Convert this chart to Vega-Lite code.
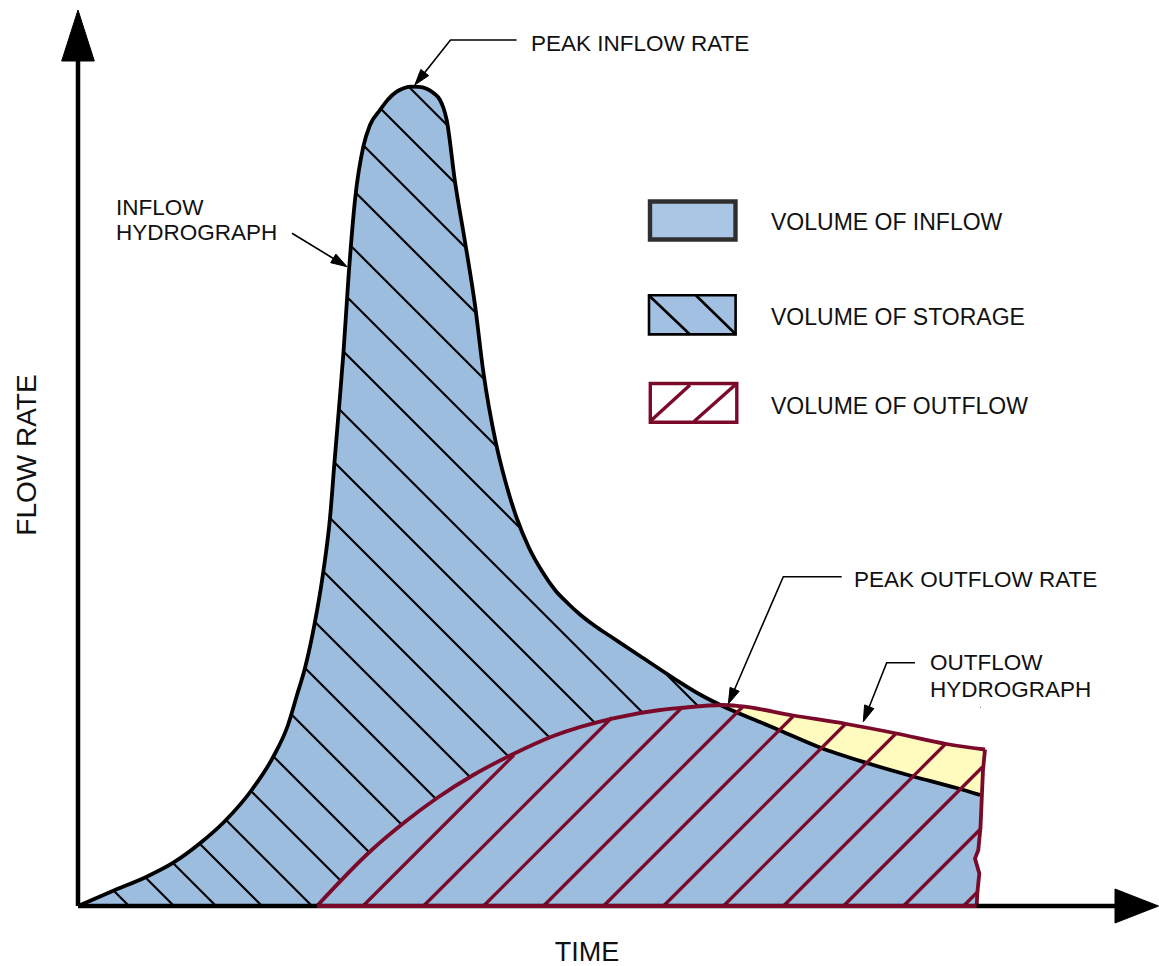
{
  "$schema": "https://vega.github.io/schema/vega-lite/v6.json",
  "width": 1159,
  "height": 966,
  "padding": 0,
  "autosize": {"type": "none"},
  "background": "white",
  "config": {"view": {"stroke": null}},
  "datasets": {
    "inflow": [
      {"x": 0, "y": 0}, {"x": 37, "y": 16}, {"x": 68.7, "y": 29.3}, {"x": 95.3, "y": 43.3},
      {"x": 122, "y": 62.7}, {"x": 147, "y": 85}, {"x": 173.7, "y": 116}, {"x": 195.3, "y": 149.3},
      {"x": 210, "y": 181}, {"x": 219, "y": 211}, {"x": 227, "y": 238}, {"x": 237, "y": 284.3},
      {"x": 245.3, "y": 334.3}, {"x": 252, "y": 388}, {"x": 256.5, "y": 444}, {"x": 261, "y": 498},
      {"x": 265.5, "y": 554}, {"x": 270.3, "y": 626}, {"x": 277, "y": 706}, {"x": 285.3, "y": 759.3},
      {"x": 292, "y": 781}, {"x": 302, "y": 796}, {"x": 310, "y": 806.5}, {"x": 318.7, "y": 814.3},
      {"x": 325, "y": 817.5}, {"x": 332, "y": 819.3}, {"x": 341, "y": 819.2}, {"x": 348.7, "y": 817.3},
      {"x": 355.5, "y": 813}, {"x": 362, "y": 806}, {"x": 365.5, "y": 798}, {"x": 368.7, "y": 786},
      {"x": 377, "y": 724.3}, {"x": 387, "y": 664.3}, {"x": 397, "y": 601}, {"x": 405.3, "y": 534.3},
      {"x": 418, "y": 462.7}, {"x": 427, "y": 426}, {"x": 438.7, "y": 388}, {"x": 450.5, "y": 359.3},
      {"x": 465.3, "y": 332.7}, {"x": 477, "y": 316}, {"x": 490, "y": 302.5}, {"x": 502, "y": 291.5},
      {"x": 517, "y": 280}, {"x": 532, "y": 270}, {"x": 562, "y": 250}, {"x": 595.3, "y": 228},
      {"x": 622, "y": 211.5}, {"x": 648.7, "y": 198}, {"x": 682, "y": 184}, {"x": 702, "y": 175.5},
      {"x": 742, "y": 158.5}, {"x": 788.7, "y": 143}, {"x": 835.3, "y": 129.5}, {"x": 878.7, "y": 118},
      {"x": 902, "y": 111}
    ],
    "outflow": [
      {"x": 239, "y": 0}, {"x": 293.7, "y": 56}, {"x": 325.3, "y": 82.7}, {"x": 358.7, "y": 107.7},
      {"x": 395.3, "y": 131}, {"x": 435.3, "y": 152}, {"x": 475.3, "y": 170}, {"x": 535.3, "y": 187.7},
      {"x": 582, "y": 196}, {"x": 602, "y": 198}, {"x": 645.3, "y": 201}, {"x": 662, "y": 199.8},
      {"x": 715.3, "y": 190.5}, {"x": 768.7, "y": 182}, {"x": 818.7, "y": 172.5}, {"x": 868.7, "y": 162},
      {"x": 907, "y": 156.5}
    ],
    "yellow": [
      {"x": 643, "y": 200.9, "yb": 200.9}, {"x": 648.7, "y": 201, "yb": 198}, {"x": 662, "y": 199.8, "yb": 192.4},
      {"x": 682, "y": 196.3, "yb": 184}, {"x": 702, "y": 192.8, "yb": 175.5}, {"x": 715.3, "y": 190.5, "yb": 169.9},
      {"x": 742, "y": 186.3, "yb": 158.5}, {"x": 768.7, "y": 182, "yb": 149.7}, {"x": 788.7, "y": 178.2, "yb": 143},
      {"x": 818.7, "y": 172.5, "yb": 134.3}, {"x": 835.3, "y": 169, "yb": 129.5}, {"x": 868.7, "y": 162, "yb": 120.6},
      {"x": 878.7, "y": 160.6, "yb": 118}, {"x": 902, "y": 157.2, "yb": 111}, {"x": 907, "y": 156.5, "yb": 109}
    ],
    "wave": [
      {"x": 898.7, "y": 0}, {"x": 899.3, "y": 12.5}, {"x": 901.3, "y": 32.5}, {"x": 897, "y": 47.5},
      {"x": 900.3, "y": 56}, {"x": 902.5, "y": 79}, {"x": 905, "y": 136}, {"x": 907, "y": 156.5}
    ],
    "waveCover": [
      {"i": 0, "x": 907, "y": 156.5}, {"i": 1, "x": 905, "y": 136}, {"i": 2, "x": 902.5, "y": 79},
      {"i": 3, "x": 900.3, "y": 56}, {"i": 4, "x": 897, "y": 47.5}, {"i": 5, "x": 901.3, "y": 32.5},
      {"i": 6, "x": 899.3, "y": 12.5}, {"i": 7, "x": 898.7, "y": 0}, {"i": 8, "x": 898.7, "y": -3},
      {"i": 9, "x": 960, "y": -3}, {"i": 10, "x": 960, "y": 180}, {"i": 11, "x": 907, "y": 180},
      {"i": 12, "x": 907, "y": 156.5}
    ],
    "blackHatch": [
      {"x": 0, "y": 51, "x2": 51, "y2": 0}, {"x": 0, "y": 96, "x2": 96, "y2": 0},
      {"x": 0, "y": 138, "x2": 138, "y2": 0}, {"x": 0, "y": 184, "x2": 184, "y2": 0},
      {"x": 0, "y": 234, "x2": 234, "y2": 0}, {"x": 0, "y": 288, "x2": 288, "y2": 0},
      {"x": 0, "y": 345, "x2": 345, "y2": 0}, {"x": 0, "y": 405, "x2": 405, "y2": 0},
      {"x": 0, "y": 465, "x2": 465, "y2": 0}, {"x": 0, "y": 521, "x2": 521, "y2": 0},
      {"x": 0, "y": 580, "x2": 580, "y2": 0}, {"x": 0, "y": 640, "x2": 640, "y2": 0},
      {"x": 0, "y": 700, "x2": 700, "y2": 0}, {"x": 0, "y": 758, "x2": 758, "y2": 0},
      {"x": 0, "y": 820, "x2": 820, "y2": 0}, {"x": 48, "y": 830, "x2": 878, "y2": 0},
      {"x": 103, "y": 830, "x2": 902, "y2": 31}, {"x": 161, "y": 830, "x2": 902, "y2": 89},
      {"x": 216, "y": 830, "x2": 902, "y2": 144}, {"x": 270, "y": 830, "x2": 902, "y2": 198},
      {"x": 320, "y": 830, "x2": 902, "y2": 248}
    ],
    "redHatch": [
      {"x": 285, "y": 0, "x2": 436, "y2": 151}, {"x": 345.5, "y": 0, "x2": 534, "y2": 188.5},
      {"x": 405.5, "y": 0, "x2": 603, "y2": 197.5}, {"x": 465.5, "y": 0, "x2": 665, "y2": 199.5},
      {"x": 525.5, "y": 0, "x2": 715, "y2": 189.5}, {"x": 585.5, "y": 0, "x2": 768, "y2": 182.5},
      {"x": 645.5, "y": 0, "x2": 818, "y2": 172.5}, {"x": 705.5, "y": 0, "x2": 868, "y2": 162.5},
      {"x": 765.5, "y": 0, "x2": 904.5, "y2": 139}, {"x": 825.5, "y": 0, "x2": 902, "y2": 76.5},
      {"x": 885.5, "y": 0, "x2": 899.5, "y2": 14}
    ],
    "arrowheads": [
      {"id": "ya", "i": 0, "x": 0, "y": 896}, {"id": "ya", "i": 1, "x": 16.3, "y": 845}, {"id": "ya", "i": 2, "x": -16.3, "y": 845}, {"id": "ya", "i": 3, "x": 0, "y": 896},
      {"id": "xa", "i": 0, "x": 1080.5, "y": 0}, {"id": "xa", "i": 1, "x": 1037, "y": 17}, {"id": "xa", "i": 2, "x": 1037, "y": -17}, {"id": "xa", "i": 3, "x": 1080.5, "y": 0},
      {"id": "a1", "i": 0, "x": 336.8, "y": 821}, {"id": "a1", "i": 1, "x": 350.7, "y": 830.4}, {"id": "a1", "i": 2, "x": 342.8, "y": 836.6}, {"id": "a1", "i": 3, "x": 336.8, "y": 821},
      {"id": "a2", "i": 0, "x": 269, "y": 639.3}, {"id": "a2", "i": 1, "x": 252.7, "y": 643.3}, {"id": "a2", "i": 2, "x": 257.9, "y": 651.9}, {"id": "a2", "i": 3, "x": 269, "y": 639.3},
      {"id": "a3", "i": 0, "x": 650.3, "y": 202}, {"id": "a3", "i": 1, "x": 661.2, "y": 214.7}, {"id": "a3", "i": 2, "x": 652.1, "y": 218.7}, {"id": "a3", "i": 3, "x": 650.3, "y": 202},
      {"id": "a4", "i": 0, "x": 785.3, "y": 184.3}, {"id": "a4", "i": 1, "x": 795.9, "y": 197.4}, {"id": "a4", "i": 2, "x": 786.6, "y": 201.1}, {"id": "a4", "i": 3, "x": 785.3, "y": 184.3}
    ],
    "leaders": [
      {"id": "l1", "i": 0, "x": 438.6, "y": 866}, {"id": "l1", "i": 1, "x": 372.5, "y": 866}, {"id": "l1", "i": 2, "x": 340, "y": 825},
      {"id": "l2", "i": 0, "x": 214, "y": 672.7}, {"id": "l2", "i": 1, "x": 265, "y": 641.7},
      {"id": "l3", "i": 0, "x": 763.7, "y": 329.3}, {"id": "l3", "i": 1, "x": 705.3, "y": 329.3}, {"id": "l3", "i": 2, "x": 652, "y": 206},
      {"id": "l4", "i": 0, "x": 837, "y": 243.3}, {"id": "l4", "i": 1, "x": 808.7, "y": 243.3}, {"id": "l4", "i": 2, "x": 787, "y": 188.5}
    ],
    "axes": [
      {"x": 0, "y": 0, "x2": 0, "y2": 848},
      {"x": 0, "y": 0, "x2": 1040, "y2": 0}
    ],
    "labels": [
      {"grp": "a", "x": 453, "y": 855, "label": "PEAK INFLOW RATE"},
      {"grp": "a", "x": 38, "y": 691, "label": "INFLOW"},
      {"grp": "a", "x": 38, "y": 666, "label": "HYDROGRAPH"},
      {"grp": "a", "x": 776, "y": 319.3, "label": "PEAK OUTFLOW RATE"},
      {"grp": "a", "x": 852, "y": 236, "label": "OUTFLOW"},
      {"grp": "a", "x": 852, "y": 209.3, "label": "HYDROGRAPH"},
      {"grp": "l", "x": 693, "y": 676.5, "label": "VOLUME OF INFLOW"},
      {"grp": "l", "x": 693, "y": 581, "label": "VOLUME OF STORAGE"},
      {"grp": "l", "x": 693, "y": 492.5, "label": "VOLUME OF OUTFLOW"},
      {"grp": "t", "x": 509, "y": -54.5, "label": "TIME"},
      {"grp": "f", "x": -42, "y": 451, "label": "FLOW RATE"}
    ]
  },
  "encoding": {
    "x": {"field": "x", "type": "quantitative", "scale": {"domain": [-78, 1081], "nice": false, "zero": false}, "axis": null},
    "y": {"field": "y", "type": "quantitative", "scale": {"domain": [-60, 906], "nice": false, "zero": false}, "axis": null}
  },
  "layer": [
    {"data": {"name": "inflow"}, "mark": {"type": "area", "interpolate": "monotone", "fill": "#9dbddf"}, "encoding": {"y2": {"datum": 0}}},
    {"data": {"name": "blackHatch"}, "mark": {"type": "rule", "stroke": "#000000", "strokeWidth": 2.1}, "encoding": {"x2": {"field": "x2"}, "y2": {"field": "y2"}}},
    {"data": {"name": "inflow"}, "mark": {"type": "area", "interpolate": "monotone", "fill": "#ffffff"}, "encoding": {"y2": {"datum": 906}}},
    {"data": {"name": "outflow"}, "mark": {"type": "area", "interpolate": "monotone", "fill": "#9dbddf"}, "encoding": {"y2": {"datum": 0}}},
    {"data": {"name": "yellow"}, "mark": {"type": "area", "interpolate": "monotone", "fill": "#fffbbf"}, "encoding": {"y2": {"field": "yb"}}},
    {"data": {"name": "waveCover"}, "mark": {"type": "line", "fill": "#ffffff", "stroke": "#ffffff", "strokeWidth": 0, "strokeOpacity": 0}, "encoding": {"order": {"field": "i"}}},
    {"data": {"name": "inflow"}, "mark": {"type": "line", "interpolate": "monotone", "stroke": "#000000", "strokeWidth": 3.8}},
    {"data": {"name": "redHatch"}, "mark": {"type": "rule", "stroke": "#7b0a2a", "strokeWidth": 3.3}, "encoding": {"x2": {"field": "x2"}, "y2": {"field": "y2"}}},
    {"data": {"name": "outflow"}, "mark": {"type": "line", "interpolate": "monotone", "stroke": "#7b0a2a", "strokeWidth": 3.8}},
    {"data": {"name": "wave"}, "mark": {"type": "line", "stroke": "#7b0a2a", "strokeWidth": 3.8}, "encoding": {"order": {"field": "y"}}},
    {"data": {"name": "axes"}, "mark": {"type": "rule", "stroke": "#000000", "strokeWidth": 4.5}, "encoding": {"x2": {"field": "x2"}, "y2": {"field": "y2"}}},
    {"data": {"values": [{"x": 239, "y": 0, "x2": 898.7, "y2": 0}]}, "mark": {"type": "rule", "stroke": "#7b0a2a", "strokeWidth": 3.8}, "encoding": {"x2": {"field": "x2"}, "y2": {"field": "y2"}}},
    {"data": {"name": "leaders"}, "mark": {"type": "line", "stroke": "#000000", "strokeWidth": 1.6}, "encoding": {"detail": {"field": "id"}, "order": {"field": "i"}}},
    {"data": {"name": "arrowheads"}, "mark": {"type": "line", "fill": "#000000", "stroke": "#000000", "strokeWidth": 1, "strokeJoin": "miter"}, "encoding": {"detail": {"field": "id"}, "order": {"field": "i"}}},
    {"data": {"values": [{"x": 572, "x2": 657.5, "y": 666.5, "y2": 704.5}]}, "mark": {"type": "rect", "fill": "#a9c6e5", "stroke": "#2f2f2f", "strokeWidth": 4.4}, "encoding": {"x2": {"field": "x2"}, "y2": {"field": "y2"}}},
    {"data": {"values": [{"x": 571, "x2": 657.6, "y": 571.6, "y2": 610.7}]}, "mark": {"type": "rect", "fill": "#a2c1e2", "stroke": "#000000", "strokeWidth": 2.6}, "encoding": {"x2": {"field": "x2"}, "y2": {"field": "y2"}}},
    {"data": {"values": [{"x": 572.3, "x2": 658.8, "y": 483.8, "y2": 522.5}]}, "mark": {"type": "rect", "fill": "#ffffff", "stroke": "#7b0a2a", "strokeWidth": 3.4}, "encoding": {"x2": {"field": "x2"}, "y2": {"field": "y2"}}},
    {"data": {"values": [{"x": 571, "y": 610.5, "x2": 612, "y2": 571.5}, {"x": 618, "y": 610.5, "x2": 658, "y2": 571.5}]}, "mark": {"type": "rule", "stroke": "#000000", "strokeWidth": 2.6}, "encoding": {"x2": {"field": "x2"}, "y2": {"field": "y2"}}},
    {"data": {"values": [{"x": 572, "y": 484.5, "x2": 612, "y2": 521}, {"x": 616, "y": 484.5, "x2": 657, "y2": 521}]}, "mark": {"type": "rule", "stroke": "#7b0a2a", "strokeWidth": 3.4}, "encoding": {"x2": {"field": "x2"}, "y2": {"field": "y2"}}},
    {"data": {"name": "labels"}, "transform": [{"filter": "datum.grp === 'a'"}], "mark": {"type": "text", "font": "Liberation Sans", "fontSize": 22.5, "align": "left", "baseline": "alphabetic", "fill": "#111111"}, "encoding": {"text": {"field": "label"}}},
    {"data": {"name": "labels"}, "transform": [{"filter": "datum.grp === 'l'"}], "mark": {"type": "text", "font": "Liberation Sans", "fontSize": 23, "align": "left", "baseline": "alphabetic", "fill": "#111111"}, "encoding": {"text": {"field": "label"}}},
    {"data": {"name": "labels"}, "transform": [{"filter": "datum.grp === 't'"}], "mark": {"type": "text", "font": "Liberation Sans", "fontSize": 27, "align": "center", "baseline": "alphabetic", "fill": "#111111"}, "encoding": {"text": {"field": "label"}}},
    {"data": {"name": "labels"}, "transform": [{"filter": "datum.grp === 'f'"}], "mark": {"type": "text", "font": "Liberation Sans", "fontSize": 28, "align": "center", "baseline": "alphabetic", "angle": 270, "fill": "#111111"}, "encoding": {"text": {"field": "label"}}}
  ]
}
